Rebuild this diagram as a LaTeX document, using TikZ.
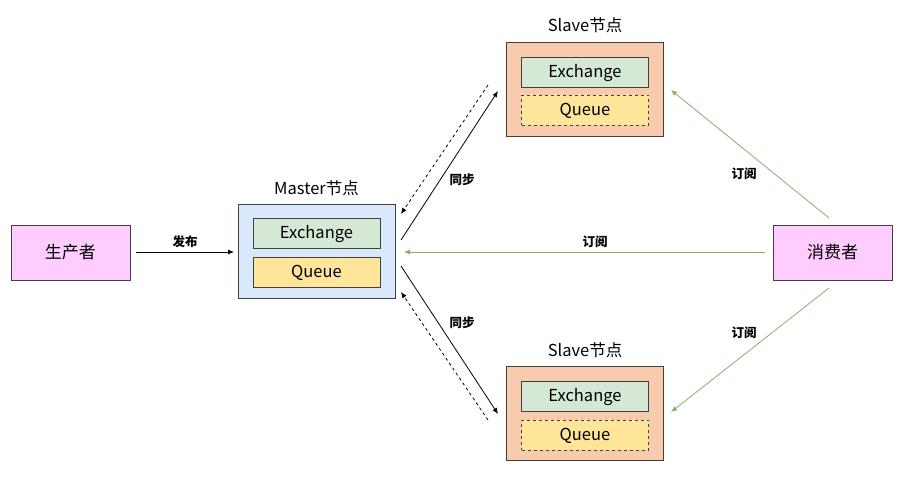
\documentclass[tikz,border=0pt]{standalone}
\usepackage{fontspec}
\setmainfont{Noto Sans CJK SC}
\usetikzlibrary{arrows.meta}
\definecolor{pinkf}{HTML}{FFCCFF}
\definecolor{bluef}{HTML}{DAE8FC}
\definecolor{greenf}{HTML}{D5E8D4}
\definecolor{yellf}{HTML}{FFE599}
\definecolor{peachf}{HTML}{F8CBAD}
\definecolor{greenl}{HTML}{82B366}
\tikzset{
  box/.style={draw=black!75, line width=0.9pt, inner sep=0pt},
  actor/.style={box, fill=pinkf, minimum width=119pt, minimum height=55pt, font=\fontsize{17}{19}\selectfont},
  node/.style={box, minimum width=157pt, minimum height=94pt},
  inner/.style={box, minimum width=127pt, minimum height=30pt, text height=11pt, text depth=0pt, font=\fontsize{16.5}{18}\selectfont},
  title/.style={font=\fontsize{16.5}{18}\selectfont},
  lab/.style={font=\fontsize{12.5}{14}\selectfont\bfseries},
  arr/.style={-{Latex[length=6pt,width=5pt]}, line width=0.8pt},
  sub/.style={-{Latex[length=6pt,width=5pt]}, line width=0.8pt, greenl},
}
\begin{document}
\begin{tikzpicture}[x=1pt,y=-1pt]
\useasboundingbox (0,0) rectangle (919,493);
% producer & consumer
\node[actor] (prod) at (70.5,252.5) {生产者};
\node[actor] (cons) at (832.5,252.5) {消费者};
% master
\node[node, fill=bluef] (master) at (316.5,251.5) {};
\node[inner, fill=greenf] (mex) at (316.5,233) {Exchange};
\node[inner, fill=yellf] (mq) at (316.5,272) {Queue};
\node[title] (mt) at (316.5,188) {Master节点};
% slave top
\node[node, fill=peachf] (s1) at (585,89) {};
\node[inner, fill=greenf] (s1ex) at (585,72) {Exchange};
\node[inner, fill=yellf, dashed] (s1q) at (585,110) {Queue};
\node[title] (s1t) at (585,25) {Slave节点};
% slave bottom
\node[node, fill=peachf] (s2) at (585,413) {};
\node[inner, fill=greenf] (s2ex) at (585,396) {Exchange};
\node[inner, fill=yellf, dashed] (s2q) at (585,435) {Queue};
\node[title] (s2t) at (585,350) {Slave节点};
% coordinates for arrows
\coordinate (m1) at (401,240);
\coordinate (t1) at (498,91);
\coordinate (t2) at (488,85);
\coordinate (m2) at (401,214);
\coordinate (m3) at (401,266);
\coordinate (b1) at (498,414);
\coordinate (b2) at (488,420);
\coordinate (m4) at (401,292);
\coordinate (pa) at (136,252);
\coordinate (pb) at (234,252);
\coordinate (c1) at (829,218);
\coordinate (s1e) at (671,90);
\coordinate (c2) at (765,252);
\coordinate (me) at (404,252);
\coordinate (c3) at (829,288);
\coordinate (s2e) at (671,412);
% arrows
\draw[arr] (pa) -- (pb) node[midway, above=1pt, lab] (l0) {发布};
\draw[arr] (m1) -- (t1);
\draw[arr, dashed] (t2) -- (m2);
\draw[arr] (m3) -- (b1);
\draw[arr, dashed] (b2) -- (m4);
\node[lab] (l1) at (462,180) {同步};
\node[lab] (l2) at (462,323) {同步};
\draw[sub] (c1) -- (s1e);
\draw[sub] (c2) -- (me);
\draw[sub] (c3) -- (s2e);
\node[lab] (l3) at (744,174) {订阅};
\node[lab] (l4) at (595,242) {订阅};
\node[lab] (l5) at (744,333) {订阅};
\end{tikzpicture}
\end{document}
